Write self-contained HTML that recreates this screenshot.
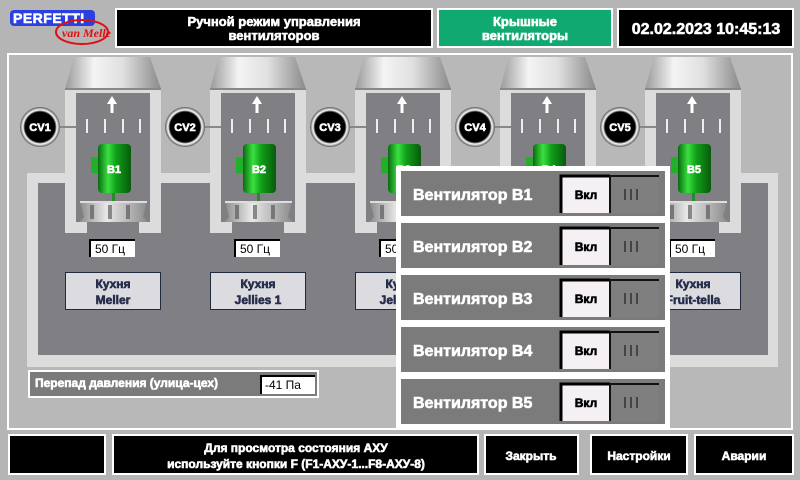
<!DOCTYPE html>
<html><head><meta charset="utf-8"><style>
html,body{margin:0;padding:0;width:800px;height:480px;overflow:hidden;background:#b5b5b5;}
svg{display:block;}
text{font-family:"Liberation Sans",sans-serif;font-weight:700;stroke-width:0.6;}
.n{font-weight:400;stroke:none;}
.w{fill:#fff;stroke:#fff;}
.k{fill:#000;stroke:#000;}
.b{fill:#262e4c;stroke:#262e4c;}
</style></head><body>
<svg width="800" height="480" viewBox="0 0 800 480" xmlns="http://www.w3.org/2000/svg">
<defs>
<linearGradient id="hood" x1="0" x2="1"><stop offset="0" stop-color="#9a9a9a"/><stop offset="0.3" stop-color="#f4f4f4"/><stop offset="0.6" stop-color="#e0e0e0"/><stop offset="1" stop-color="#8a8a8a"/></linearGradient>
<linearGradient id="grn" x1="0" x2="1"><stop offset="0" stop-color="#0a6a10"/><stop offset="0.3" stop-color="#3ae040"/><stop offset="0.55" stop-color="#10a018"/><stop offset="1" stop-color="#085a0c"/></linearGradient>
<linearGradient id="fan" x1="0" x2="1"><stop offset="0" stop-color="#8a8a8a"/><stop offset="0.4" stop-color="#e8e8e8"/><stop offset="1" stop-color="#8a8a8a"/></linearGradient>
<radialGradient id="cv"><stop offset="0.75" stop-color="#000"/><stop offset="0.85" stop-color="#fff"/><stop offset="1" stop-color="#555"/></radialGradient>
<g id="col">
<rect x="65" y="89" width="96" height="144" fill="#dcdcdc"/>
<polygon points="74,57 150,57 161,89 65,89" fill="url(#hood)"/>
<rect x="65" y="88" width="96" height="2" fill="#888"/>
<rect x="76" y="93" width="74" height="129" fill="#807f84"/>
<rect x="87" y="222" width="52" height="12" fill="#807f84"/>
<polygon points="112,96 107,104 110.5,104 110.5,113 113.5,113 113.5,104 117,104" fill="#fff"/>
<rect x="86" y="119" width="2" height="14" fill="#eee"/><rect x="104" y="119" width="2" height="14" fill="#eee"/><rect x="122" y="119" width="2" height="14" fill="#eee"/><rect x="139" y="119" width="2" height="14" fill="#eee"/>
<line x1="58" y1="127" x2="76" y2="127" stroke="#888" stroke-width="2"/>
<circle cx="40" cy="127" r="20" fill="url(#cv)"/>
<rect x="91" y="157" width="8" height="16" fill="#22b02a"/>
<rect x="98" y="144" width="33" height="49" rx="4" fill="url(#grn)"/>
<rect x="112" y="193" width="3" height="8" fill="#2a8a2a"/>
<polygon points="80,201 147,201 143,217 148,222 79,222 84,217" fill="url(#fan)"/>
<rect x="90" y="205" width="4" height="14" fill="#777"/><rect x="108" y="205" width="4" height="14" fill="#888"/><rect x="126" y="205" width="4" height="14" fill="#777"/>
<rect x="80" y="201" width="67" height="2" fill="#ddd"/>
<rect x="90" y="240" width="45" height="17" fill="#fff"/>
<path d="M90 257V240H135" stroke="#000" stroke-width="2" fill="none"/>
<rect x="65.5" y="272.5" width="95" height="37" fill="#dcdce0" stroke="#222a40"/>
</g>
<g id="row"><rect x="400" y="0" width="266" height="47" fill="#7b7b7b" stroke="#fff" stroke-width="2"/>
<rect x="560" y="5" width="50" height="38" fill="#f4f0f4"/><path d="M561 43V6H610" stroke="#000" stroke-width="3" fill="none"/>
<rect x="610" y="5" width="49" height="38" fill="#7f7f7f"/><path d="M610 43V6H659" stroke="#111" stroke-width="2" fill="none"/>
<rect x="624" y="19" width="2" height="11" fill="#444"/><rect x="630" y="19" width="2" height="11" fill="#444"/><rect x="636" y="19" width="2" height="11" fill="#444"/></g>
</defs>
<rect x="10" y="10" width="85" height="16" rx="4" fill="#2a40e0"/>
<text class="w" x="13" y="23" font-size="14" letter-spacing="0.5">PERFETTI</text>
<ellipse cx="82" cy="32" rx="26" ry="12" fill="none" stroke="#e01010" stroke-width="2"/>
<text x="62" y="37" fill="#e01010" font-size="12" style="font-family:'Liberation Serif',serif;font-style:italic">van Melle</text>
<rect x="116" y="9" width="316" height="38" fill="#000" stroke="#fff" stroke-width="2"/>
<text class="w" x="274" y="26" font-size="13" text-anchor="middle">Ручной режим управления</text>
<text class="w" x="274" y="40" font-size="13" text-anchor="middle">вентиляторов</text>
<rect x="438" y="9" width="174" height="38" fill="#10aa70" stroke="#fff" stroke-width="2"/>
<text class="w" x="525" y="26" font-size="13" text-anchor="middle">Крышные</text>
<text class="w" x="525" y="40" font-size="13" text-anchor="middle">вентиляторы</text>
<rect x="618" y="9" width="175" height="38" fill="#000" stroke="#fff" stroke-width="2"/>
<text class="w" x="706" y="34" font-size="16" text-anchor="middle">02.02.2023 10:45:13</text>
<rect x="8" y="54" width="784" height="375" fill="#b8b8b8" stroke="#fff" stroke-width="2"/>
<rect x="27" y="173" width="751" height="194" fill="#dcdcdc"/>
<rect x="38" y="183" width="730" height="172" fill="#807f84"/>
<use href="#col"/><use href="#col" x="145"/><use href="#col" x="290"/><use href="#col" x="435"/><use href="#col" x="580"/>
<g font-size="11" text-anchor="middle">
<text class="w" x="40" y="131">CV1</text><text class="w" x="185" y="131">CV2</text><text class="w" x="330" y="131">CV3</text><text class="w" x="475" y="131">CV4</text><text class="w" x="620" y="131">CV5</text>
<text class="w" x="114" y="173">B1</text><text class="w" x="259" y="173">B2</text><text class="w" x="404" y="173">B3</text><text class="w" x="549" y="173">B4</text><text class="w" x="694" y="173">B5</text>
</g>
<g fill="#000" font-size="12">
<text class="n" x="95" y="253">50 Гц</text><text class="n" x="240" y="253">50 Гц</text><text class="n" x="385" y="253">50 Гц</text><text class="n" x="530" y="253">50 Гц</text><text class="n" x="675" y="253">50 Гц</text>
</g>
<g font-size="12" text-anchor="middle">
<text class="b" x="113" y="288">Кухня</text><text class="b" x="113" y="304">Meller</text>
<text class="b" x="258" y="288">Кухня</text><text class="b" x="258" y="304">Jellies 1</text>
<text class="b" x="403" y="288">Кухня</text><text class="b" x="403" y="304">Jellies 2</text>
<text class="b" x="548" y="288">Кухня</text><text class="b" x="548" y="304">Jellies 3</text>
<text class="b" x="693" y="288">Кухня</text><text class="b" x="693" y="304">Fruit-tella</text>
</g>
<rect x="29" y="371" width="289" height="26" fill="#7b7b7b" stroke="#fff" stroke-width="2"/>
<text class="w" x="35" y="387" font-size="12">Перепад давления (улица-цех)</text>
<rect x="260" y="375" width="55" height="19" fill="#fff"/><path d="M261 394V376H315" stroke="#000" stroke-width="2" fill="none"/>
<text class="n" x="265" y="389" fill="#000" font-size="12">-41  Па</text>
<rect x="396" y="166" width="274" height="263" fill="#fff"/>
<use href="#row" y="170"/><use href="#row" y="222"/><use href="#row" y="274"/><use href="#row" y="326"/><use href="#row" y="378"/>
<g font-size="16">
<text class="w" x="413" y="200">Вентилятор В1</text><text class="w" x="413" y="252">Вентилятор В2</text><text class="w" x="413" y="304">Вентилятор В3</text><text class="w" x="413" y="356">Вентилятор В4</text><text class="w" x="413" y="408">Вентилятор В5</text>
</g>
<g font-size="12" text-anchor="middle">
<text class="k" x="586" y="199">Вкл</text><text class="k" x="586" y="251">Вкл</text><text class="k" x="586" y="303">Вкл</text><text class="k" x="586" y="355">Вкл</text><text class="k" x="586" y="407">Вкл</text>
</g>
<rect x="9" y="435" width="96" height="39" fill="#000" stroke="#fff" stroke-width="2"/>
<rect x="113" y="435" width="365" height="39" fill="#000" stroke="#fff" stroke-width="2"/>
<text class="w" x="296" y="452" font-size="12" text-anchor="middle">Для просмотра состояния АХУ</text>
<text class="w" x="296" y="468" font-size="12" text-anchor="middle">используйте кнопки F (F1-АХУ-1...F8-АХУ-8)</text>
<rect x="485" y="435" width="93" height="39" fill="#000" stroke="#fff" stroke-width="2"/>
<text class="w" x="531" y="460" font-size="12" text-anchor="middle">Закрыть</text>
<rect x="591" y="435" width="96" height="39" fill="#000" stroke="#fff" stroke-width="2"/>
<text class="w" x="639" y="460" font-size="12" text-anchor="middle">Настройки</text>
<rect x="695" y="435" width="98" height="39" fill="#000" stroke="#fff" stroke-width="2"/>
<text class="w" x="744" y="460" font-size="12" text-anchor="middle">Аварии</text>
</svg>
</body></html>
